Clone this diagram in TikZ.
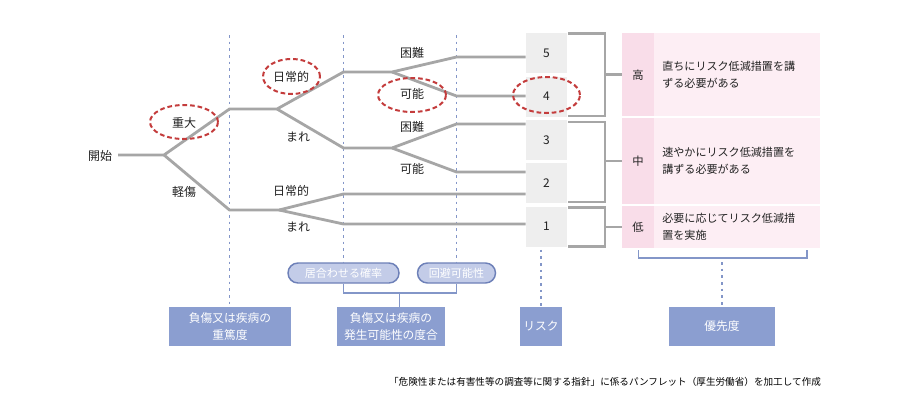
\documentclass[tikz,border=0pt]{standalone}
\usepackage{fontspec}
\setmainfont{Noto Sans CJK JP}
\usetikzlibrary{shapes.geometric,calc}
\definecolor{lg}{HTML}{A6A6A6}
\definecolor{db}{HTML}{8396C8}
\definecolor{rd}{HTML}{C43C3C}
\definecolor{bx}{HTML}{8B9ED0}
\definecolor{pl}{HTML}{C3CCE8}
\definecolor{plb}{HTML}{6D80B8}
\definecolor{pka}{HTML}{F9DDE9}
\definecolor{pkb}{HTML}{FDEEF4}
\definecolor{gb}{HTML}{EEEEEE}
\definecolor{tx}{HTML}{222222}
\tikzset{
  br/.style={draw=lg, line width=2.1pt},
  vdot/.style={draw=db, line width=1.4pt, dash pattern=on 2pt off 3pt},
  redell/.style={draw=rd, line width=1.5pt, dash pattern=on 3.5pt off 2.2pt, ellipse, inner sep=0pt},
  lbl/.style={text=tx, font=\fontsize{9}{11}\selectfont, inner sep=0pt},
  rbox/.style={fill=gb, text=tx, font=\fontsize{9}{11}\selectfont, minimum width=30.75pt, minimum height=30pt, inner sep=0pt},
  rate/.style={fill=pka, text=tx, font=\fontsize{8.5}{11}\selectfont, minimum width=24pt, inner sep=0pt},
  desc/.style={fill=pkb, text=tx, font=\fontsize{8.3}{12.6}\selectfont, minimum width=124.5pt, text width=112pt, align=left, inner xsep=6.2pt, inner ysep=0pt},
  bbox/.style={fill=bx, text=white, font=\fontsize{8.8}{12.6}\selectfont, align=center, minimum height=29.25pt, inner sep=0pt},
  pill/.style={fill=pl, draw=plb, line width=1.1pt, text=white, font=\fontsize{8.3}{10}\selectfont, rounded corners=7.5pt, minimum height=15pt, inner sep=0pt},
  bl/.style={draw=db, line width=1.2pt}
}
\begin{document}
\begin{tikzpicture}[x=0.75pt,y=-0.75pt]
\useasboundingbox[fill=white] (0,0) rectangle (900,414);

% dotted verticals
\coordinate (v1) at (229.5,35);
\coordinate (v2) at (343.5,35);
\coordinate (v3) at (456.5,35);

% bottom boxes and pills
\node[bbox, minimum width=91.5pt] (sev) at (230,326.5) {負傷又は疾病の\\重篤度};
\node[bbox, minimum width=81pt] (occ) at (391,326.5) {負傷又は疾病の\\発生可能性の度合};
\node[bbox, minimum width=31.5pt] (risk) at (541,326.5) {リスク};
\node[bbox, minimum width=79.5pt] (prio) at (722,326.5) {優先度};
\node[pill, minimum width=83.25pt] (p1) at (343.5,273) {居合わせる確率};
\node[pill, minimum width=58.5pt] (p2) at (456.5,273) {回避可能性};

\draw[vdot] (v1) -- (v1 |- sev.north);
\draw[vdot] (v2) -- (p1.north);
\draw[vdot] (v3) -- (p2.north);

\coordinate (pj) at (399.5,293);
\draw[bl] (p1.south) -- (p1.south |- pj) -| (p2.south);
\draw[bl] (pj) -- (pj |- occ.north);

% risk boxes
\node[rbox] (r5) at (546.5,53) {5};
\node[rbox] (r4) at (546.5,96.5) {4};
\node[rbox] (r3) at (546.5,140) {3};
\node[rbox] (r2) at (546.5,183) {2};
\node[rbox] (r1) at (546.5,226.5) {1};
\draw[vdot] ($(r1.south)+(-5.5,3)$) coordinate (rk) -- (rk |- risk.north);

% tree
\node[lbl] (start) at (100,156) {開始};
\coordinate (s0) at (118,155);
\coordinate (s1) at (164,155);
\coordinate (a1) at (229.5,109);
\coordinate (a2) at (277,109);
\coordinate (b1) at (229.5,210);
\coordinate (b2) at (279,210);
\coordinate (c1) at (343.5,72);
\coordinate (c2) at (392,72);
\coordinate (d1) at (343.5,148);
\coordinate (d2) at (392,148);
\coordinate (e1) at (456.5,57);
\coordinate (e2) at (456.5,96);
\coordinate (f1) at (456.5,124);
\coordinate (f2) at (456.5,172);
\coordinate (g1) at (343.5,194);
\coordinate (g2) at (343.5,224);

\draw[br] (s0) -- (s1) -- (a1) -- (a2) -- (c1) -- (c2) -- (e1) -- (e1 -| r5.west);
\draw[br] (c2) -- (e2) -- (e2 -| r4.west);
\draw[br] (a2) -- (d1) -- (d2) -- (f1) -- (f1 -| r3.west);
\draw[br] (d2) -- (f2) -- (f2 -| r2.west);
\draw[br] (s1) -- (b1) -- (b2) -- (g1) -- (g1 -| r2.west);
\draw[br] (b2) -- (g2) -- (g2 -| r1.west);

\node[lbl] (l1) at (184,123) {重大};
\node[lbl] (l2) at (184,192) {軽傷};
\node[lbl] (l3) at (291,77) {日常的};
\node[lbl] (l4) at (298,137) {まれ};
\node[lbl] (l5) at (291,191) {日常的};
\node[lbl] (l6) at (298,227) {まれ};
\node[lbl] (l7) at (412,53) {困難};
\node[lbl] (l8) at (412,94) {可能};
\node[lbl] (l9) at (412,127) {困難};
\node[lbl] (l10) at (412,169) {可能};

% red dashed ellipses
\node[redell, minimum width=51pt, minimum height=25.5pt] (e_a) at (184,122) {};
\node[redell, minimum width=42.75pt, minimum height=26.25pt] (e_b) at (291.5,76.5) {};
\node[redell, minimum width=51pt, minimum height=25.5pt] (e_c) at (412,95) {};
\node[redell, minimum width=50.25pt, minimum height=27pt] (e_d) at (546.5,95) {};

% brackets
\coordinate (k1t) at (568,33.5);
\coordinate (k1b) at (568,116);
\coordinate (k2t) at (568,122);
\coordinate (k2b) at (568,202);
\coordinate (k3t) at (568,207.5);
\coordinate (k3b) at (568,246.5);

% table
\node[rate, minimum height=62.25pt] (h1) at (638,74.75) {高};
\node[desc, minimum height=62.25pt] (t1) at (737,74.75) {直ちにリスク低減措置を講\\ずる必要がある};
\node[rate, minimum height=64.5pt] (h2) at (638,161) {中};
\node[desc, minimum height=64.5pt] (t2) at (737,161) {速やかにリスク低減措置を\\講ずる必要がある};
\node[rate, minimum height=31.5pt] (h3) at (638,227) {低};
\node[desc, minimum height=31.5pt] (t3) at (737,227) {必要に応じてリスク低減措\\置を実施};

\draw[br] (k1t) -- ++(37,0) coordinate (k1r) -- (k1r |- k1b) -- (k1b);
\draw[br] (k1r |- h1.west) -- (h1.west);
\draw[br] (k2t) -- ++(37,0) coordinate (k2r) -- (k2r |- k2b) -- (k2b);
\draw[br] (k2r |- h2.west) -- (h2.west);
\draw[br] (k3t) -- ++(37,0) coordinate (k3r) -- (k3r |- k3b) -- (k3b);
\draw[br] (k3r |- h3.west) -- (h3.west);

% priority bracket
\coordinate (q1) at (638.5,250);
\coordinate (q2) at (807,250);
\coordinate (qm) at (722,258);
\draw[bl] (q1) -- (q1 |- qm) -- (q2 |- qm) -- (q2);
\draw[vdot] ($(qm)+(0,4)$) -- (prio.north);

% caption
\node[font=\fontsize{7.2}{9}\selectfont, inner sep=0pt, text=black] (cap) at (605,382) {「危険性または有害性等の調査等に関する指針」に係るパンフレット（厚生労働省）を加工して作成};
\end{tikzpicture}
\end{document}
